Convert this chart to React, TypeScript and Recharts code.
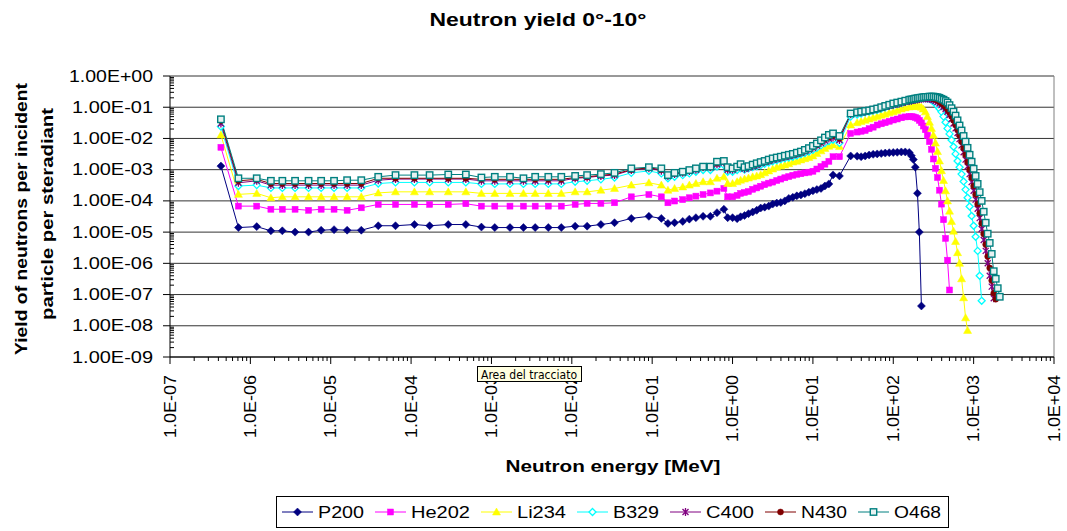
import React from 'react';
import { LineChart, Line, XAxis, YAxis, CartesianGrid, ReferenceLine, Legend } from 'recharts';

// neutron energy grid [MeV]
const ENERGY_LOW = [4.3e-7, 7.1e-7, 1.2e-6, 1.8e-6, 2.5e-6, 3.6e-6, 5.3e-6, 7.6e-6, 1.1e-5, 1.6e-5, 2.4e-5, 3.9e-5, 6.4e-5, 1.1e-4, 1.7e-4, 2.9e-4, 4.8e-4, 7.5e-4, 1.1e-3, 1.7e-3, 2.5e-3, 3.5e-3, 5.1e-3, 7.4e-3, 1.1e-2, 1.55e-2, 2.3e-2, 3.4e-2, 5.5e-2, 9.1e-2, 0.13, 0.157, 0.19, 0.24, 0.29, 0.35, 0.43, 0.53, 0.64, 0.78, 0.87, 1.0, 1.14, 1.26];
const ENERGY_HIGH = [1.41, 1.58, 1.78, 2.0, 2.24, 2.51, 2.82, 3.16, 3.55, 3.98, 4.47, 5.01, 5.62, 6.31, 7.08, 7.94, 8.91, 10, 11.2, 12.6, 14.1, 15.8, 17.8, 21.4, 29.5, 35.5, 39.8, 44.7, 50.1, 56.2, 63.1, 70.8, 79.4, 89.1, 100, 112, 126, 141, 158, 168, 178, 188, 200, 211, 224, 237, 251, 266, 282, 299, 316, 335, 355, 376, 398, 422, 447, 473, 501, 531, 562, 596, 631, 668, 708, 750, 794, 841, 891, 944, 1000, 1059, 1122, 1189, 1259, 1334, 1413, 1496, 1585, 1679, 1778, 1884, 1995, 2113];

// yields per series
const P200_LOW = [1.3e-3, 1.4e-5, 1.5e-5, 1.1e-5, 1.1e-5, 1.0e-5, 1.0e-5, 1.15e-5, 1.2e-5, 1.15e-5, 1.15e-5, 1.6e-5, 1.6e-5, 1.75e-5, 1.6e-5, 1.75e-5, 1.75e-5, 1.45e-5, 1.4e-5, 1.4e-5, 1.4e-5, 1.4e-5, 1.4e-5, 1.4e-5, 1.55e-5, 1.55e-5, 1.75e-5, 2.0e-5, 2.75e-5, 3.2e-5, 2.75e-5, 1.9e-5, 2.0e-5, 2.2e-5, 2.6e-5, 2.9e-5, 3.2e-5, 3.2e-5, 4.2e-5, 5.4e-5, 2.9e-5, 2.9e-5, 2.7e-5, 3.1e-5];
const P200_HIGH = [3.4e-5, 3.9e-5, 4.4e-5, 5.0e-5, 5.9e-5, 6.3e-5, 6.8e-5, 7.9e-5, 8.5e-5, 8.9e-5, 1.0e-4, 1.2e-4, 1.3e-4, 1.45e-4, 1.55e-4, 1.7e-4, 1.9e-4, 2.1e-4, 2.3e-4, 2.5e-4, 3.0e-4, 3.5e-4, 6.8e-4, 6.3e-4, 2.75e-3, 2.7e-3, 2.6e-3, 2.75e-3, 2.95e-3, 3.1e-3, 3.2e-3, 3.3e-3, 3.4e-3, 3.5e-3, 3.55e-3, 3.6e-3, 3.7e-3, 3.7e-3, 3.55e-3, 2.8e-3, 2.1e-3, 1.2e-3, 1.75e-4, 1.0e-5, 4.3e-8];

const HE202_LOW = [5.2e-3, 6.8e-5, 6.8e-5, 5.4e-5, 5.4e-5, 5.4e-5, 5.0e-5, 5.4e-5, 5.4e-5, 5.0e-5, 6.0e-5, 7.7e-5, 7.7e-5, 7.7e-5, 7.7e-5, 7.7e-5, 8.1e-5, 6.8e-5, 6.8e-5, 6.8e-5, 6.8e-5, 6.8e-5, 6.8e-5, 6.8e-5, 7.7e-5, 8.3e-5, 8.3e-5, 8.7e-5, 1.35e-4, 1.6e-4, 1.35e-4, 8.7e-5, 9.9e-5, 1.1e-4, 1.26e-4, 1.42e-4, 1.6e-4, 1.8e-4, 2.05e-4, 2.5e-4, 1.35e-4, 1.35e-4, 1.5e-4, 1.74e-4];
const HE202_HIGH = [1.86e-4, 2.0e-4, 2.35e-4, 2.6e-4, 2.95e-4, 3.3e-4, 3.7e-4, 4.0e-4, 4.5e-4, 5.0e-4, 5.5e-4, 6.0e-4, 6.6e-4, 7.1e-4, 7.4e-4, 7.9e-4, 8.3e-4, 8.9e-4, 1.05e-3, 1.26e-3, 1.5e-3, 1.85e-3, 2.6e-3, 2.6e-3, 1.45e-2, 1.6e-2, 1.7e-2, 1.8e-2, 2.05e-2, 2.3e-2, 2.7e-2, 2.95e-2, 3.2e-2, 3.55e-2, 3.9e-2, 4.2e-2, 4.6e-2, 4.9e-2, 5.0e-2, 5.0e-2, 4.9e-2, 4.7e-2, 4.4e-2, 3.8e-2, 3.2e-2, 2.5e-2, 1.9e-2, 1.26e-2, 7.9e-3, 4.5e-3, 2.2e-3, 1.1e-3, 5.6e-4, 2.2e-4, 7.9e-5, 2.5e-5, 6.3e-6, 1.26e-6, 1.4e-7];

const LI234_LOW = [1.29e-2, 1.62e-4, 1.74e-4, 1.26e-4, 1.35e-4, 1.35e-4, 1.35e-4, 1.35e-4, 1.35e-4, 1.35e-4, 1.35e-4, 1.8e-4, 1.95e-4, 1.95e-4, 1.95e-4, 1.95e-4, 1.95e-4, 1.74e-4, 1.74e-4, 1.74e-4, 1.74e-4, 1.74e-4, 1.74e-4, 1.74e-4, 1.95e-4, 1.95e-4, 2.2e-4, 2.5e-4, 3.2e-4, 3.8e-4, 3.2e-4, 2.2e-4, 2.5e-4, 2.8e-4, 3.2e-4, 3.6e-4, 4.1e-4, 4.1e-4, 5.3e-4, 5.9e-4, 3.6e-4, 3.6e-4, 4.1e-4, 4.6e-4];
const LI234_HIGH = [5.0e-4, 5.4e-4, 5.9e-4, 6.3e-4, 6.9e-4, 7.9e-4, 9.1e-4, 1.05e-3, 1.2e-3, 1.3e-3, 1.4e-3, 1.55e-3, 1.75e-3, 1.85e-3, 2.05e-3, 2.25e-3, 2.45e-3, 2.75e-3, 3.3e-3, 4.0e-3, 4.8e-3, 5.6e-3, 6.2e-3, 5.5e-3, 2.7e-2, 3.2e-2, 3.5e-2, 3.8e-2, 4.2e-2, 4.6e-2, 5.0e-2, 5.5e-2, 6.0e-2, 6.6e-2, 7.2e-2, 7.9e-2, 8.7e-2, 9.5e-2, 0.102, 0.105, 0.107, 0.107, 0.107, 0.105, 0.1, 8.7e-2, 7.1e-2, 5.0e-2, 3.3e-2, 2.1e-2, 1.26e-2, 7.1e-3, 3.8e-3, 1.9e-3, 9.3e-4, 4.5e-4, 2.1e-4, 1.0e-4, 4.7e-5, 2.2e-5, 1.07e-5, 5.0e-6, 2.2e-6, 1.0e-6, 3.2e-7, 7.9e-8, 1.8e-8, 7.1e-9];

const B329_LOW = [2.4e-2, 3.0e-4, 3.2e-4, 2.6e-4, 2.6e-4, 2.6e-4, 2.6e-4, 2.6e-4, 2.6e-4, 2.6e-4, 2.6e-4, 3.6e-4, 3.9e-4, 3.9e-4, 3.9e-4, 3.9e-4, 3.9e-4, 3.5e-4, 3.5e-4, 3.5e-4, 3.5e-4, 3.5e-4, 3.5e-4, 3.5e-4, 4.1e-4, 4.4e-4, 4.9e-4, 5.6e-4, 7.9e-4, 9.1e-4, 7.6e-4, 5.3e-4, 5.9e-4, 6.7e-4, 7.6e-4, 8.6e-4, 9.7e-4, 9.7e-4, 1.25e-3, 1.4e-3, 8.6e-4, 8.6e-4, 9.7e-4, 1.1e-3];
const B329_HIGH = [1.0e-3, 1.1e-3, 1.2e-3, 1.3e-3, 1.4e-3, 1.55e-3, 1.7e-3, 1.85e-3, 2.0e-3, 2.15e-3, 2.3e-3, 2.45e-3, 2.6e-3, 2.8e-3, 3.1e-3, 3.4e-3, 3.8e-3, 4.3e-3, 5.0e-3, 6.0e-3, 7.1e-3, 8.3e-3, 9.1e-3, 7.2e-3, 5.0e-2, 5.8e-2, 6.3e-2, 6.8e-2, 7.2e-2, 7.8e-2, 8.3e-2, 9.1e-2, 0.1, 0.11, 0.117, 0.126, 0.135, 0.148, 0.158, 0.166, 0.174, 0.182, 0.19, 0.195, 0.195, 0.195, 0.195, 0.19, 0.186, 0.17, 0.151, 0.132, 0.11, 8.9e-2, 7.1e-2, 5.0e-2, 3.3e-2, 2.1e-2, 1.4e-2, 8.9e-3, 5.4e-3, 3.2e-3, 1.9e-3, 1.2e-3, 7.2e-4, 4.2e-4, 2.3e-4, 1.26e-4, 6.6e-5, 3.3e-5, 1.6e-5, 7.1e-6, 2.5e-6, 4.0e-7, 6.3e-8];

const C400_LOW = [3.0e-2, 3.8e-4, 4.4e-4, 3.2e-4, 3.2e-4, 3.2e-4, 3.2e-4, 3.2e-4, 3.2e-4, 3.2e-4, 3.2e-4, 4.6e-4, 5.0e-4, 5.0e-4, 5.0e-4, 5.0e-4, 5.0e-4, 4.4e-4, 4.4e-4, 4.4e-4, 4.4e-4, 4.4e-4, 4.4e-4, 4.4e-4, 5.3e-4, 5.6e-4, 6.3e-4, 6.7e-4, 9.7e-4, 1.1e-3, 9.3e-4, 6.3e-4, 7.2e-4, 7.9e-4, 9.1e-4, 1.0e-3, 1.2e-3, 1.2e-3, 1.5e-3, 1.7e-3, 1.0e-3, 1.0e-3, 1.2e-3, 1.3e-3];
const C400_HIGH = [1.07e-3, 1.17e-3, 1.3e-3, 1.4e-3, 1.6e-3, 1.75e-3, 1.9e-3, 2.1e-3, 2.25e-3, 2.4e-3, 2.6e-3, 2.75e-3, 2.95e-3, 3.2e-3, 3.5e-3, 3.9e-3, 4.4e-3, 5.0e-3, 5.9e-3, 7.1e-3, 8.5e-3, 1.0e-2, 1.07e-2, 8.9e-3, 6.0e-2, 6.6e-2, 6.9e-2, 7.2e-2, 7.8e-2, 8.3e-2, 8.9e-2, 9.8e-2, 0.105, 0.112, 0.12, 0.129, 0.138, 0.148, 0.158, 0.162, 0.17, 0.174, 0.178, 0.182, 0.186, 0.19, 0.19, 0.19, 0.186, 0.182, 0.174, 0.162, 0.148, 0.132, 0.117, 0.102, 8.7e-2, 7.2e-2, 5.6e-2, 4.2e-2, 3.0e-2, 2.1e-2, 1.5e-2, 9.5e-3, 6.0e-3, 3.6e-3, 2.1e-3, 1.26e-3, 7.2e-4, 4.0e-4, 2.1e-4, 1.1e-4, 5.6e-5, 2.8e-5, 1.26e-5, 5.6e-6, 2.5e-6, 1.0e-6, 4.0e-7, 1.8e-7, 7.6e-8];

const N430_LOW = [3.7e-2, 4.4e-4, 4.9e-4, 3.6e-4, 3.6e-4, 3.6e-4, 3.6e-4, 3.6e-4, 3.6e-4, 3.6e-4, 3.6e-4, 5.3e-4, 5.3e-4, 5.3e-4, 5.3e-4, 5.3e-4, 5.3e-4, 4.9e-4, 4.9e-4, 4.9e-4, 4.9e-4, 4.9e-4, 4.9e-4, 4.9e-4, 5.6e-4, 5.9e-4, 6.6e-4, 7.2e-4, 1.0e-3, 1.15e-3, 1.0e-3, 6.6e-4, 7.6e-4, 8.3e-4, 9.5e-4, 1.08e-3, 1.2e-3, 1.2e-3, 1.6e-3, 1.8e-3, 1.1e-3, 1.1e-3, 1.25e-3, 1.4e-3];
const N430_HIGH = [1.15e-3, 1.26e-3, 1.4e-3, 1.5e-3, 1.65e-3, 1.8e-3, 2.0e-3, 2.2e-3, 2.35e-3, 2.5e-3, 2.7e-3, 2.9e-3, 3.1e-3, 3.3e-3, 3.6e-3, 4.1e-3, 4.7e-3, 5.4e-3, 6.3e-3, 7.8e-3, 9.5e-3, 1.12e-2, 1.23e-2, 1.02e-2, 6.2e-2, 6.8e-2, 7.1e-2, 7.4e-2, 7.9e-2, 8.5e-2, 9.1e-2, 0.1, 0.107, 0.115, 0.126, 0.135, 0.145, 0.155, 0.166, 0.17, 0.174, 0.182, 0.186, 0.19, 0.195, 0.2, 0.2, 0.2, 0.2, 0.195, 0.186, 0.178, 0.166, 0.151, 0.135, 0.12, 0.102, 8.5e-2, 6.9e-2, 5.2e-2, 3.8e-2, 2.75e-2, 1.9e-2, 1.26e-2, 7.9e-3, 4.9e-3, 3.0e-3, 1.75e-3, 1.0e-3, 5.6e-4, 3.0e-4, 1.6e-4, 7.9e-5, 4.0e-5, 1.9e-5, 8.7e-6, 4.0e-6, 1.66e-6, 7.1e-7, 2.8e-7, 1.1e-7, 7.1e-8];

const O468_LOW = [4.1e-2, 5.3e-4, 5.3e-4, 4.4e-4, 4.4e-4, 4.4e-4, 4.4e-4, 4.4e-4, 4.4e-4, 4.6e-4, 4.6e-4, 5.9e-4, 6.7e-4, 6.7e-4, 6.7e-4, 7.0e-4, 7.0e-4, 5.6e-4, 5.9e-4, 5.9e-4, 5.3e-4, 5.9e-4, 5.9e-4, 5.9e-4, 6.3e-4, 6.7e-4, 7.2e-4, 7.9e-4, 1.1e-3, 1.2e-3, 1.1e-3, 6.7e-4, 7.9e-4, 8.6e-4, 9.7e-4, 1.1e-3, 1.25e-3, 1.25e-3, 1.8e-3, 1.9e-3, 1.2e-3, 1.1e-3, 1.25e-3, 1.5e-3];
const O468_HIGH = [1.2e-3, 1.3e-3, 1.45e-3, 1.6e-3, 1.75e-3, 1.9e-3, 2.1e-3, 2.3e-3, 2.45e-3, 2.6e-3, 2.8e-3, 3.0e-3, 3.2e-3, 3.5e-3, 3.8e-3, 4.3e-3, 4.9e-3, 5.8e-3, 6.9e-3, 8.7e-3, 1.07e-2, 1.3e-2, 1.45e-2, 1.2e-2, 6.3e-2, 6.9e-2, 7.2e-2, 7.6e-2, 7.9e-2, 8.5e-2, 9.1e-2, 0.1, 0.11, 0.12, 0.132, 0.141, 0.151, 0.162, 0.174, 0.178, 0.182, 0.19, 0.195, 0.2, 0.204, 0.209, 0.214, 0.214, 0.219, 0.219, 0.219, 0.214, 0.209, 0.2, 0.186, 0.174, 0.158, 0.141, 0.117, 9.3e-2, 7.2e-2, 5.4e-2, 3.8e-2, 2.6e-2, 1.8e-2, 1.2e-2, 7.9e-3, 5.0e-3, 3.0e-3, 1.8e-3, 1.07e-3, 6.3e-4, 3.5e-4, 1.9e-4, 1.0e-4, 4.5e-5, 2.0e-5, 8.9e-6, 4.5e-6, 2.0e-6, 5.6e-7, 3.2e-7, 1.6e-7, 8.5e-8];

const X_TICKS = [1e-7, 1e-6, 1e-5, 1e-4, 1e-3, 1e-2, 1e-1, 1, 10, 100, 1000, 10000];
const X_TICK_LABELS = ['1.0E-07', '1.0E-06', '1.0E-05', '1.0E-04', '1.0E-03', '1.0E-02', '1.0E-01', '1.0E+00', '1.0E+01', '1.0E+02', '1.0E+03', '1.0E+04'];
const Y_TICKS = [1e-9, 1e-8, 1e-7, 1e-6, 1e-5, 1e-4, 1e-3, 1e-2, 1e-1, 1];
const Y_TICK_LABELS = ['1.00E-09', '1.00E-08', '1.00E-07', '1.00E-06', '1.00E-05', '1.00E-04', '1.00E-03', '1.00E-02', '1.00E-01', '1.00E+00'];

const minorTicks = (majors: number[]) =>
  majors.slice(0, -1).flatMap((m) => [2, 3, 4, 5, 6, 7, 8, 9].map((k) => m * k));
const X_MINOR = minorTicks(X_TICKS);
const Y_MINOR = minorTicks(Y_TICKS);

const FONT = '"Liberation Sans", Arial, sans-serif';

type Shape = 'diamond' | 'square' | 'triangle' | 'hollowDiamond' | 'star' | 'circle' | 'hollowSquare';

const SERIES: { key: string; name: string; color: string; shape: Shape; low: number[]; high: number[] }[] = [
  { key: 'p200', name: 'P200', color: '#000080', shape: 'diamond', low: P200_LOW, high: P200_HIGH },
  { key: 'he202', name: 'He202', color: '#FF00FF', shape: 'square', low: HE202_LOW, high: HE202_HIGH },
  { key: 'li234', name: 'Li234', color: '#FFFF00', shape: 'triangle', low: LI234_LOW, high: LI234_HIGH },
  { key: 'b329', name: 'B329', color: '#00FFFF', shape: 'hollowDiamond', low: B329_LOW, high: B329_HIGH },
  { key: 'c400', name: 'C400', color: '#800080', shape: 'star', low: C400_LOW, high: C400_HIGH },
  { key: 'n430', name: 'N430', color: '#800000', shape: 'circle', low: N430_LOW, high: N430_HIGH },
  { key: 'o468', name: 'O468', color: '#008080', shape: 'hollowSquare', low: O468_LOW, high: O468_HIGH },
];

const ENERGY = [...ENERGY_LOW, ...ENERGY_HIGH];
const rows = ENERGY.map((e, i) => {
  const row: Record<string, number | null> = { e };
  SERIES.forEach((s) => {
    const vals = [...s.low, ...s.high];
    row[s.key] = i < vals.length ? vals[i] : null;
  });
  return row;
});

const Marker = ({ shape, color, cx, cy }: { shape: Shape; color: string; cx: number; cy: number }) => {
  switch (shape) {
    case 'diamond':
      return <path d={`M${cx},${cy - 4}L${cx + 4},${cy}L${cx},${cy + 4}L${cx - 4},${cy}Z`} fill={color} stroke={color} strokeWidth={0.5} />;
    case 'square':
      return <rect x={cx - 3} y={cy - 3} width={6} height={6} fill={color} stroke={color} strokeWidth={0.5} />;
    case 'triangle':
      return <path d={`M${cx},${cy - 4}L${cx + 4},${cy + 3}L${cx - 4},${cy + 3}Z`} fill={color} stroke={color} strokeWidth={0.5} />;
    case 'hollowDiamond':
      return <path d={`M${cx},${cy - 3.5}L${cx + 3.5},${cy}L${cx},${cy + 3.5}L${cx - 3.5},${cy}Z`} fill="#ffffff" stroke={color} strokeWidth={1.3} />;
    case 'star':
      return (
        <path
          d={`M${cx - 3},${cy - 3}L${cx + 3},${cy + 3}M${cx + 3},${cy - 3}L${cx - 3},${cy + 3}M${cx},${cy - 4}L${cx},${cy + 4}`}
          stroke={color}
          strokeWidth={1.3}
          fill="none"
        />
      );
    case 'circle':
      return <circle cx={cx} cy={cy} r={3} fill={color} stroke={color} strokeWidth={0.5} />;
    case 'hollowSquare':
      return <rect x={cx - 3.2} y={cy - 3.2} width={6.4} height={6.4} fill="#e8f2f2" stroke={color} strokeWidth={1.4} />;
    default:
      return null;
  }
};

const renderXTick = (props: any) => {
  const { x, y, payload } = props;
  const label = X_TICK_LABELS[X_TICKS.indexOf(payload.value)];
  return (
    <g>
      <line x1={x} x2={x} y1={y} y2={y + 7} stroke="#000" />
      <text
        transform={`translate(${x},${y + 18}) rotate(-90)`}
        textAnchor="end"
        dominantBaseline="central"
        fontSize={17}
        fontFamily={FONT}
        fill="#000"
        textLength={label.includes('+') ? 67 : 63}
        lengthAdjust="spacingAndGlyphs"
      >
        {label}
      </text>
    </g>
  );
};

const renderXMinorTick = (props: any) => {
  const { x, y } = props;
  return <line x1={x} x2={x} y1={y - 1} y2={y + 3} stroke="#000" />;
};

const renderYTick = (props: any) => {
  const { x, y, payload } = props;
  const label = Y_TICK_LABELS[Y_TICKS.indexOf(payload.value)];
  return (
    <g>
      <line x1={x - 7} x2={x} y1={y} y2={y} stroke="#000" />
      <text
        x={x - 17}
        y={y}
        textAnchor="end"
        dominantBaseline="central"
        fontSize={17}
        fontFamily={FONT}
        fill="#000"
        textLength={label.includes('+') ? 84 : 81}
        lengthAdjust="spacingAndGlyphs"
      >
        {label}
      </text>
    </g>
  );
};

const renderYMinorTick = (props: any) => {
  const { x, y } = props;
  return <line x1={x + 1} x2={x + 5} y1={y} y2={y} stroke="#000" />;
};

// legend item x offsets and text widths inside the box
const LEGEND_X = [6, 99, 205, 301, 394, 489, 582];
const LEGEND_W = [46, 59, 49, 46, 48, 46, 47];

const renderLegend = () => (
  <svg width={673} height={32} style={{ display: 'block' }}>
    <rect x={0.5} y={0.5} width={672} height={31} fill="#fff" stroke="#000" />
    {SERIES.map((s, i) => {
      const x0 = LEGEND_X[i];
      return (
        <g key={s.key}>
          <line x1={x0} x2={x0 + 31} y1={16} y2={16} stroke={s.color} strokeWidth={1} />
          <Marker shape={s.shape} color={s.color} cx={x0 + 15.5} cy={16} />
          <text
            x={x0 + 36}
            y={16}
            dominantBaseline="central"
            fontSize={16}
            fontFamily={FONT}
            fill="#000"
            textLength={LEGEND_W[i]}
            lengthAdjust="spacingAndGlyphs"
          >
            {s.name}
          </text>
        </g>
      );
    })}
  </svg>
);

const App: React.FC = () => (
  <div style={{ position: 'absolute', left: 0, top: 0, width: 1067, height: 531, background: '#fff', fontFamily: FONT }}>
    <LineChart width={1067} height={531} data={rows} margin={{ top: 76, right: 13, bottom: 172, left: 168 }}>
      <CartesianGrid vertical={false} stroke="#333" />
      <XAxis
        dataKey="e"
        type="number"
        scale="log"
        domain={[1e-7, 1e4]}
        ticks={X_TICKS}
        interval={0}
        tick={renderXTick}
        tickLine={false}
        tickSize={0}
        tickMargin={0}
        axisLine={{ stroke: '#000' }}
        height={1}
        allowDataOverflow
      />
      <XAxis
        xAxisId="minor"
        dataKey="e"
        type="number"
        scale="log"
        domain={[1e-7, 1e4]}
        ticks={X_MINOR}
        interval={0}
        tick={renderXMinorTick}
        tickLine={false}
        tickSize={0}
        tickMargin={0}
        axisLine={false}
        height={1}
        allowDataOverflow
      />
      <YAxis
        type="number"
        scale="log"
        domain={[1e-9, 1]}
        ticks={Y_TICKS}
        interval={0}
        tick={renderYTick}
        tickLine={false}
        tickSize={0}
        tickMargin={0}
        axisLine={{ stroke: '#000' }}
        width={1}
        allowDataOverflow
      />
      <YAxis
        yAxisId="minor"
        type="number"
        scale="log"
        domain={[1e-9, 1]}
        ticks={Y_MINOR}
        interval={0}
        tick={renderYMinorTick}
        tickLine={false}
        tickSize={0}
        tickMargin={0}
        axisLine={false}
        width={1}
        allowDataOverflow
      />
      <ReferenceLine x={1e4} stroke="#808080" />
      {SERIES.map((s) => (
        <Line
          key={s.key}
          dataKey={s.key}
          name={s.name}
          stroke={s.color}
          strokeWidth={1}
          isAnimationActive={false}
          activeDot={false}
          dot={(p: any) =>
            p.cx == null || p.cy == null || p.value == null ? (
              <g key={p.key} />
            ) : (
              <g key={p.key}>
                <Marker shape={s.shape} color={s.color} cx={p.cx} cy={p.cy} />
              </g>
            )
          }
        />
      ))}
      <Legend
        layout="vertical"
        align="center"
        verticalAlign="middle"
        wrapperStyle={{ left: 276, top: 496, width: 673, height: 32 }}
        content={renderLegend}
      />
    </LineChart>
    <svg width={1067} height={531} style={{ position: 'absolute', left: 0, top: 0, pointerEvents: 'none' }}>
      <text x={538} y={19} textAnchor="middle" dominantBaseline="central" fontSize={19} fontWeight="bold" fontFamily={FONT} textLength={217} lengthAdjust="spacingAndGlyphs">
        Neutron yield 0°-10°
      </text>
      <text x={613} y={466} textAnchor="middle" dominantBaseline="central" fontSize={17} fontWeight="bold" fontFamily={FONT} textLength={215} lengthAdjust="spacingAndGlyphs">
        Neutron energy [MeV]
      </text>
      <text transform="translate(21,219) rotate(-90)" textAnchor="middle" dominantBaseline="central" fontSize={17} fontWeight="bold" fontFamily={FONT} textLength={272} lengthAdjust="spacingAndGlyphs">
        Yield of neutrons per incident
      </text>
      <text transform="translate(47,214) rotate(-90)" textAnchor="middle" dominantBaseline="central" fontSize={17} fontWeight="bold" fontFamily={FONT} textLength={212} lengthAdjust="spacingAndGlyphs">
        particle per steradiant
      </text>
      <rect x={477.5} y={366.5} width={104} height={15} fill="#FFFFE1" stroke="#000" />
      <text x={481} y={374.5} dominantBaseline="central" fontSize={11.5} fontFamily='"DejaVu Sans", sans-serif' textLength={96} lengthAdjust="spacingAndGlyphs">
        Area del tracciato
      </text>
    </svg>
  </div>
);

export default App;
